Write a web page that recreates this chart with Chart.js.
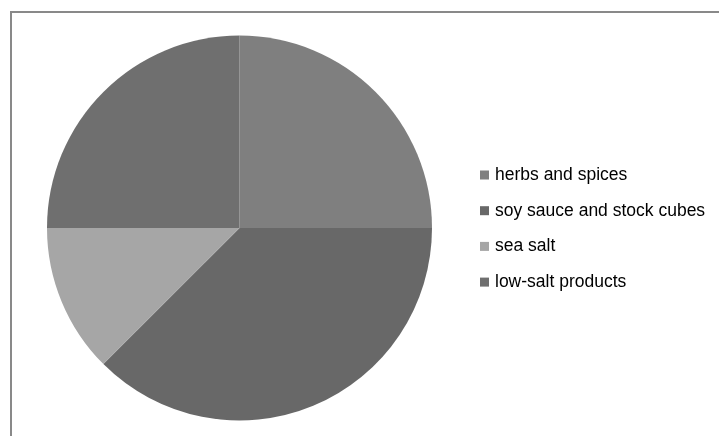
<!DOCTYPE html>
<html><head><meta charset="utf-8">
<script src="https://cdn.jsdelivr.net/npm/chart.js@4/dist/chart.umd.min.js"></script>
<style>
html,body{margin:0;padding:0;background:#fff;}
#wrap{position:relative;width:719px;height:436px;overflow:hidden;}
#frame{position:absolute;left:10px;top:11px;width:720px;height:440px;border-top:2px solid #898989;border-left:2px solid #898989;}
canvas{position:absolute;left:0;top:0;}
</style></head>
<body><div id="wrap"><div id="frame"></div><canvas id="c" width="719" height="436"></canvas></div>
<script>
const categories = ["herbs and spices", "soy sauce and stock cubes", "sea salt", "low-salt products"];
const shares = [25, 37.5, 12.5, 25];
const colors = ["#7f7f7f", "#686868", "#a6a6a6", "#6f6f6f"];

const legendPlugin = {
  id: 'customLegend',
  afterDraw(chart) {
    const ctx = chart.ctx;
    ctx.save();
    ctx.font = '17.5px "Liberation Sans", Arial, sans-serif';
    ctx.textBaseline = 'middle';
    const x0 = 480, y0 = 175, step = 35.7, sq = 9;
    chart.data.labels.forEach((lab, i) => {
      const y = y0 + i * step;
      ctx.fillStyle = chart.data.datasets[0].backgroundColor[i];
      ctx.fillRect(x0, y - sq / 2, sq, sq);
      ctx.fillStyle = '#000';
      ctx.fillText(lab, x0 + 15, y);
    });
    ctx.restore();
  }
};

new Chart(document.getElementById('c'), {
  type: 'pie',
  data: { labels: categories, datasets: [{ data: shares, backgroundColor: colors, borderWidth: 0 }] },
  options: {
    responsive: false, animation: false,
    layout: { padding: { left: 47, top: 35.5, right: 287, bottom: 15.5 } },
    plugins: { legend: { display: false }, tooltip: { enabled: false } }
  },
  plugins: [legendPlugin]
});
</script></body></html>
